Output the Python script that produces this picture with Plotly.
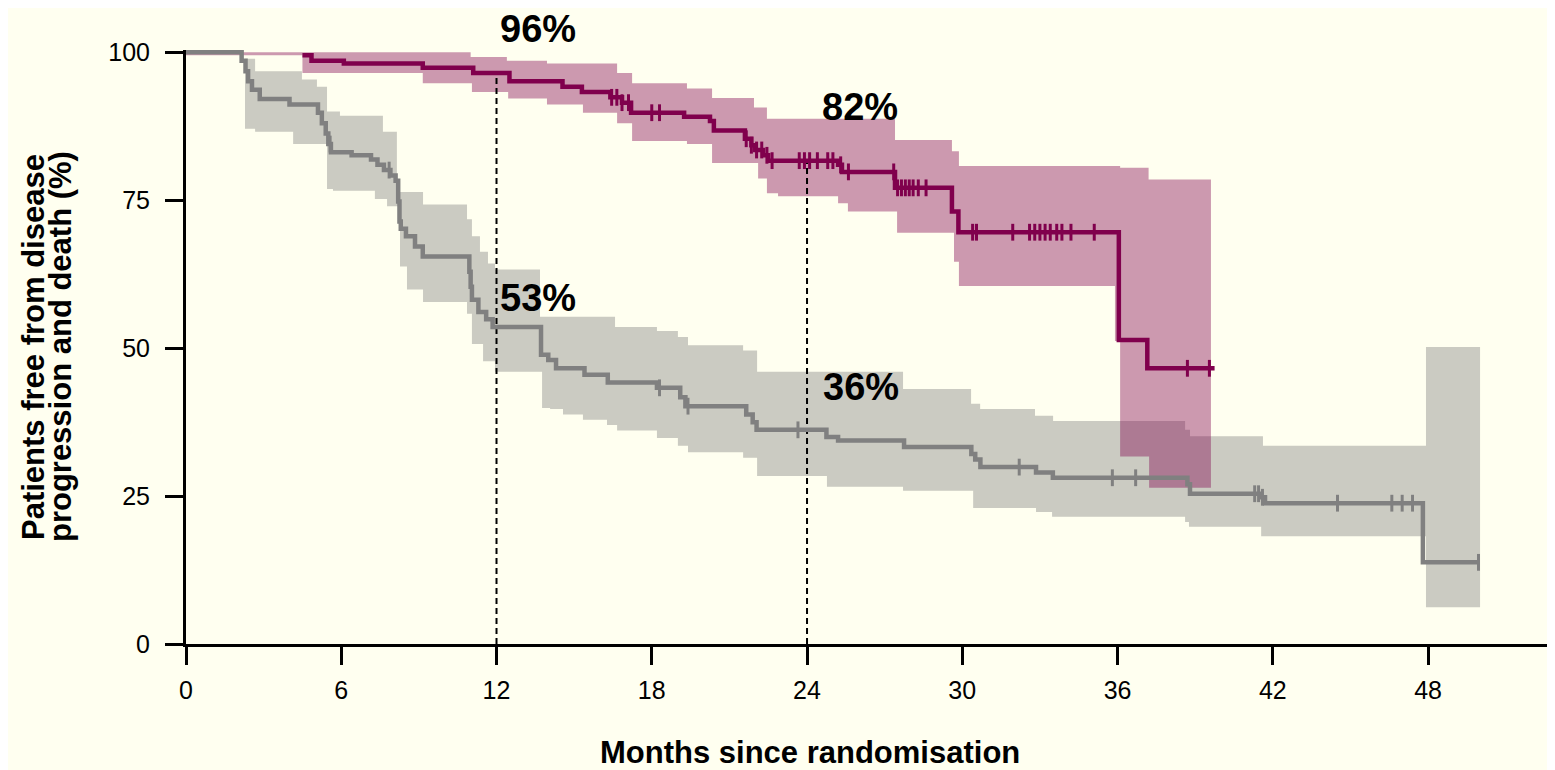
import plotly.graph_objects as go

# ---------------- data (months since randomisation, % free from progression/death) ----------------
# Control arm (grey) Kaplan-Meier step curve
ctrl_t = [0, 2.15, 2.3, 2.4, 2.55, 2.85, 4.0, 5.1, 5.25, 5.4, 5.5, 5.6, 6.4, 7.15, 7.4, 7.65, 7.9, 8.1,
          8.2, 8.25, 8.3, 8.5, 8.85, 9.15, 10.95, 11.0, 11.05, 11.3, 11.6, 11.85, 13.72, 14.0, 14.3,
          15.4, 16.3, 18.2, 19.1, 19.3, 21.65, 21.9, 22.05, 24.75, 25.2, 27.75, 30.35, 30.5, 30.7,
          32.85, 33.5, 38.7, 38.8, 41.55, 41.7, 47.8]
ctrl_s = [100, 98.6, 96.8, 95.1, 93.7, 92.1, 91.2, 89.8, 88.0, 86.3, 84.5, 83.1, 82.6, 81.9, 81.0, 80.1, 79.2, 78.3,
          74.8, 71.4, 70.2, 68.9, 67.2, 65.5, 62.9, 60.4, 58.2, 56.1, 54.9, 53.6, 48.9, 48.0, 46.6,
          45.5, 44.2, 43.3, 41.7, 40.2, 38.8, 37.5, 36.2, 35.0, 34.4, 33.3, 32.1, 31.2, 29.9,
          29.0, 28.1, 27.0, 25.4, 24.8, 23.8, 13.8]
ctrl_end = 50.0
ctrl_cens = [5.57, 7.85, 18.3, 19.4, 23.65, 32.2, 35.8, 36.7, 41.3, 41.45, 41.6, 44.5, 46.6, 47.0, 47.4, 49.95]
# Control arm confidence band
ctrl_up_t = [0, 2.28, 2.67, 4.48, 5.06, 5.45, 5.95, 7.61, 8.15, 9.16, 10.86, 11.05, 11.36, 11.67, 11.94, 13.68,
             16.58, 18.20, 19.01, 19.40, 21.53, 22.07, 27.71, 30.34, 30.69, 32.81, 33.51, 38.61, 38.80, 41.62, 47.92]
ctrl_up = [100, 98.9, 96.8, 95.4, 94.2, 90.0, 89.3, 86.6, 76.4, 74.3, 71.8, 68.9, 66.3, 64.3, 63.3, 55.3,
           53.6, 52.9, 51.9, 50.5, 49.6, 46.0, 43.1, 40.6, 39.7, 38.6, 37.7, 36.2, 35.1, 33.5, 50.2]
ctrl_lo_t = [0, 2.28, 2.67, 4.14, 5.45, 5.68, 7.30, 7.77, 8.27, 8.54, 9.16, 10.86, 11.05, 11.48, 11.94, 13.76,
             14.07, 14.57, 15.34, 16.27, 16.66, 18.20, 19.01, 19.40, 21.53, 22.07, 24.77, 27.71, 30.42, 32.85,
             33.47, 38.61, 38.76, 41.55, 47.92]
ctrl_lo = [100, 87.1, 86.6, 84.5, 76.9, 76.6, 75.2, 74.0, 63.8, 59.9, 57.8, 55.8, 50.7, 47.8, 46.0, 39.9,
           39.7, 38.8, 37.9, 37.0, 36.1, 34.8, 33.5, 32.4, 31.5, 28.4, 26.6, 25.9, 23.0, 22.3,
           21.5, 20.6, 19.8, 18.2, 6.2]
ctrl_band_end = 50.01

# Treatment arm (purple) Kaplan-Meier step curve
trt_t = [4.5, 4.85, 6.1, 9.15, 11.1, 12.5, 14.55, 15.3, 16.4, 16.85, 17.2, 19.25, 20.25, 20.4, 21.6, 21.85,
         22.0, 22.3, 22.5, 25.2, 25.35, 27.4, 29.6, 29.85, 36.05, 37.15]
trt_s = [99.5, 98.6, 98.1, 97.4, 96.5, 95.1, 94.2, 93.3, 92.4, 91.5, 89.8, 89.1, 88.4, 86.8, 85.4, 84.3,
         83.5, 82.6, 81.7, 81.0, 79.8, 77.1, 73.1, 69.6, 51.4, 46.6]
trt_end = 39.75
trt_cens = [16.45, 16.65, 16.85, 17.1, 18.0, 18.3, 21.65, 21.85, 22.05, 22.25, 22.45, 22.65, 23.7, 23.9,
            24.1, 24.4, 24.8, 25.0, 25.3, 25.6, 27.35, 27.5, 27.65, 27.8, 27.95, 28.1, 28.3, 28.6, 30.4,
            30.55, 31.95, 32.6, 32.8, 33.0, 33.2, 33.4, 33.65, 33.85, 34.2, 35.1, 38.7, 39.55]
# Treatment arm confidence band
trt_up_t = [0, 11.0, 12.4, 13.95, 16.66, 17.24, 19.36, 20.33, 21.95, 22.45, 27.4, 29.6, 29.87, 36.1, 37.2]
trt_up = [100, 99.2, 98.6, 98.1, 96.5, 94.8, 93.9, 92.3, 90.7, 88.8, 85.2, 83.3, 80.8, 80.5, 78.5]
trt_lo_t = [0, 4.5, 9.15, 11.05, 12.45, 13.95, 15.34, 16.66, 17.24, 19.36, 20.33, 22.11, 22.45, 22.88,
            25.20, 25.58, 27.48, 29.68, 29.87, 35.90, 36.10, 37.22]
trt_lo = [99.5, 96.5, 94.8, 93.3, 92.2, 91.2, 89.8, 88.0, 85.0, 84.5, 81.3, 78.7, 76.2, 75.7,
          74.5, 73.1, 69.5, 64.6, 60.5, 51.2, 31.7, 26.4]
trt_band_end = 39.61

landmarks = [12, 24]
ctrl_labels = ["53%", "36%"]
trt_labels = ["96%", "82%"]
x_ticks = [0, 6, 12, 18, 24, 30, 36, 42, 48]
y_ticks = [0, 25, 50, 75, 100]

x_title = "Months since randomisation"
y_title_lines = ["Patients free from disease", "progression and death (%)"]

# ---------------- styles ----------------
FONT = "Liberation Sans, Arial, sans-serif"
BG = "#FFFFF0"
PURPLE = "rgb(128,0,77)"
PURPLE_BAND = "rgba(128,0,77,0.40)"
GREY = "rgb(128,128,128)"
GREY_BAND = "rgba(128,128,128,0.41)"
Y_MAX = 100.4


def step_at(ts, ss, t):
    v = ss[0]
    for ti, si in zip(ts, ss):
        if ti <= t:
            v = si
        else:
            break
    return v


def step_path(ts, vals, end):
    xs, ys = [], []
    for i, (t, v) in enumerate(zip(ts, vals)):
        nxt = ts[i + 1] if i + 1 < len(ts) else end
        xs += [t, nxt]
        ys += [v, v]
    return xs, ys


def band_polygon(ut, uv, lt, lv, end):
    ux, uy = step_path(ut, uv, end)
    lx, ly = step_path(lt, lv, end)
    return ux + lx[::-1], uy + ly[::-1]


fig = go.Figure()

# bands
gx, gy = band_polygon(ctrl_up_t, ctrl_up, ctrl_lo_t, ctrl_lo, ctrl_band_end)
fig.add_trace(go.Scatter(x=gx, y=gy, fill="toself", fillcolor=GREY_BAND, line=dict(width=0),
                         mode="lines", hoverinfo="skip", showlegend=False))
px_, py_ = band_polygon(trt_up_t, trt_up, trt_lo_t, trt_lo, trt_band_end)
fig.add_trace(go.Scatter(x=px_, y=py_, fill="toself", fillcolor=PURPLE_BAND, line=dict(width=0),
                         mode="lines", hoverinfo="skip", showlegend=False))

# landmark dashed lines
for lm in landmarks:
    top = step_at(trt_t, trt_s, lm)
    fig.add_trace(go.Scatter(x=[lm, lm], y=[0, top], mode="lines",
                             line=dict(color="black", width=2, dash="6px,4px"),
                             hoverinfo="skip", showlegend=False))

# KM curves
fig.add_trace(go.Scatter(x=ctrl_t + [ctrl_end], y=ctrl_s + [ctrl_s[-1]], mode="lines",
                         line=dict(color=GREY, width=4.5, shape="hv"), showlegend=False, cliponaxis=False))
fig.add_trace(go.Scatter(x=trt_t + [trt_end], y=trt_s + [trt_s[-1]], mode="lines",
                         line=dict(color=PURPLE, width=4.5, shape="hv"), showlegend=False, cliponaxis=False))

# censor marks
fig.add_trace(go.Scatter(x=ctrl_cens, y=[step_at(ctrl_t, ctrl_s, c) for c in ctrl_cens], mode="markers",
                         marker=dict(symbol="line-ns", size=12, line=dict(width=3, color=GREY)),
                         showlegend=False))
fig.add_trace(go.Scatter(x=trt_cens, y=[step_at(trt_t, trt_s, c) for c in trt_cens], mode="markers",
                         marker=dict(symbol="line-ns", size=12, line=dict(width=3, color=PURPLE)),
                         showlegend=False))

# percentage labels (x in months, y given as % then mapped to paper so labels above the axis still show)
label_pos_trt = [(13.6, 104.0), (26.05, 90.7)]
label_pos_ctrl = [(13.6, 58.5), (26.1, 43.5)]
for txt, (x, y) in zip(trt_labels + ctrl_labels, label_pos_trt + label_pos_ctrl):
    fig.add_annotation(x=x, y=y / Y_MAX, xref="x", yref="paper", text="<b>%s</b>" % txt, showarrow=False,
                       font=dict(family=FONT, size=38, color="black"),
                       xanchor="center", yanchor="middle")

# axis titles
fig.add_annotation(xref="paper", yref="paper", x=0.4568, y=-0.183, text="<b>%s</b>" % x_title,
                   showarrow=False, font=dict(family=FONT, size=31, color="black"),
                   xanchor="center", yanchor="middle")
for line_txt, xp in zip(y_title_lines, [-0.112, -0.0922]):
    fig.add_annotation(xref="paper", yref="paper", x=xp, y=0.5, text="<b>%s</b>" % line_txt,
                       showarrow=False, textangle=-90, font=dict(family=FONT, size=31, color="black"),
                       xanchor="center", yanchor="middle")

# page body has an 8px margin: size the figure to the visible viewport
fig.update_layout(
    width=1547, height=762,
    margin=dict(l=178, r=3, t=42, b=126),
    paper_bgcolor=BG, plot_bgcolor=BG,
    font=dict(family=FONT, color="black"),
    showlegend=False,
)
fig.update_xaxes(range=[0, 52.79], showgrid=False, zeroline=False, showline=True, linewidth=3,
                 linecolor="black", ticks="outside", ticklen=18, tickwidth=3, tickcolor="black",
                 tickvals=x_ticks, ticktext=[str(v) for v in x_ticks], tickfont=dict(size=25),
                 ticklabelstandoff=4)
fig.update_yaxes(range=[0, Y_MAX], showgrid=False, zeroline=False, showline=True, linewidth=3,
                 linecolor="black", ticks="outside", ticklen=18, tickwidth=3, tickcolor="black",
                 tickvals=y_ticks, ticktext=[str(v) for v in y_ticks], tickfont=dict(size=25),
                 ticklabelstandoff=10)

fig.write_html("out.html")
